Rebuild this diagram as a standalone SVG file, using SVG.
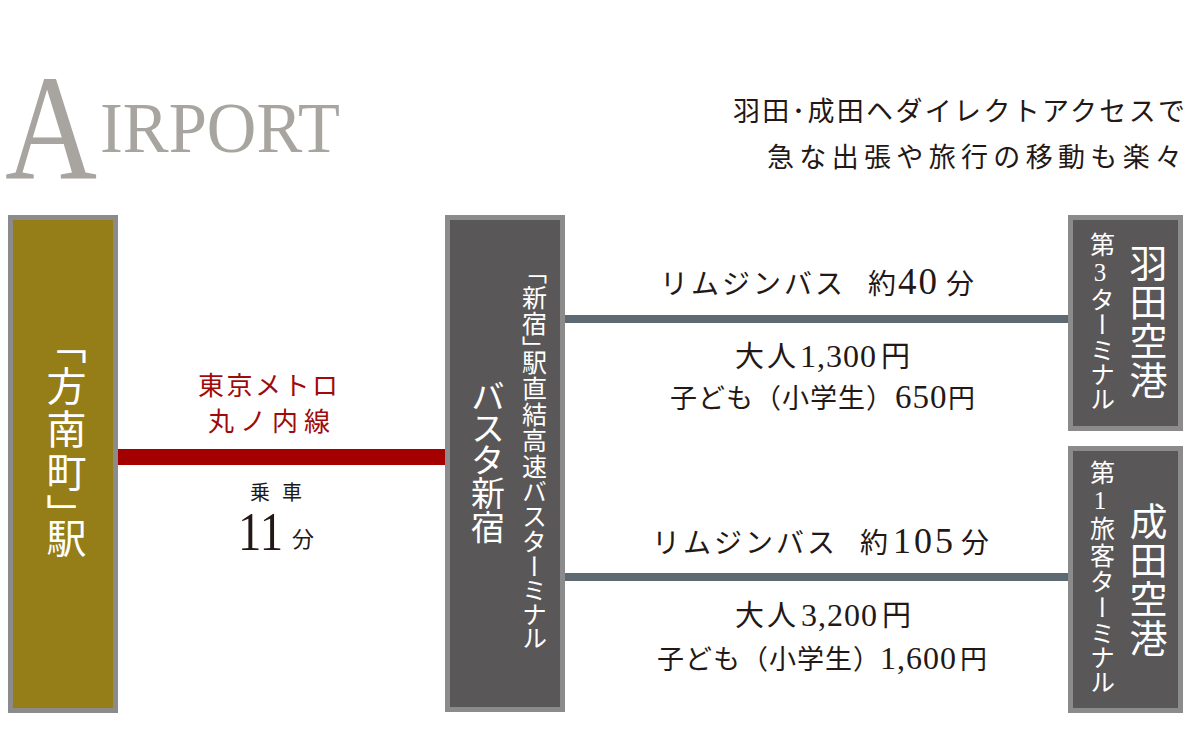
<svg xmlns="http://www.w3.org/2000/svg" width="1200" height="750" viewBox="0 0 1200 750">
  <style>
    .jp { font-family: "Liberation Serif", "Noto Sans CJK JP", serif; fill: #231815; }
    .red { fill: #a00a0a; }
    .white { fill: #ffffff; }
    .vert { writing-mode: vertical-rl; text-orientation: upright; text-anchor: middle; font-feature-settings: "vpal"; }
    .title { font-family: "Liberation Serif", serif; fill: #a8a4a0; }
    .box { stroke: #8b8b8b; stroke-width: 5; }
    .olive { fill: #957d17; }
    .dark { fill: #595757; }
  </style>
  <rect width="1200" height="750" fill="#ffffff"/>

  <g id="title">
    <text class="title" x="5" y="178" font-size="150" textLength="92" lengthAdjust="spacingAndGlyphs">A</text>
    <text class="title" x="100" y="152" font-size="71" textLength="240" lengthAdjust="spacingAndGlyphs">IRPORT</text>
  </g>

  <g id="tagline">
    <text class="jp" x="733" y="121" font-size="27" textLength="452" lengthAdjust="spacing">羽田･成田ヘダイレクトアクセスで</text>
    <text class="jp" x="767" y="167" font-size="27" textLength="415" lengthAdjust="spacing">急な出張や旅行の移動も楽々</text>
  </g>

  <g id="connectors">
    <rect x="118" y="449" width="328" height="16" fill="#a40000"/>
    <rect x="565" y="315" width="504" height="8" fill="#5d6a72"/>
    <rect x="565" y="573" width="504" height="8" fill="#5d6a72"/>
  </g>

  <g id="metro-labels">
    <text class="jp red" x="198" y="395" font-size="26" textLength="140" lengthAdjust="spacing">東京メトロ</text>
    <text class="jp red" x="208" y="431" font-size="26" textLength="122" lengthAdjust="spacing">丸ノ内線</text>
    <text class="jp" x="250" y="500" font-size="20" textLength="52" lengthAdjust="spacing">乗車</text>
    <text class="jp" x="238" y="550" font-size="54" textLength="45" lengthAdjust="spacingAndGlyphs">11</text>
    <text class="jp" x="292" y="547" font-size="22">分</text>
  </g>

  <g id="bus-labels">
    <text class="jp" y="294" font-size="28"><tspan x="660" letter-spacing="3">リムジンバス</tspan> <tspan x="868">約</tspan><tspan x="898" font-size="37" letter-spacing="2">40</tspan><tspan x="946">分</tspan></text>
    <text class="jp" y="367" font-size="29"><tspan x="735" letter-spacing="3">大人</tspan><tspan x="800" font-size="32" letter-spacing="1">1,300</tspan><tspan x="881">円</tspan></text>
    <text class="jp" y="408" font-size="27"><tspan x="670" letter-spacing="1">子ども（小学生）</tspan><tspan x="895" font-size="33" letter-spacing="1">650</tspan><tspan x="948">円</tspan></text>
    <text class="jp" y="553" font-size="28"><tspan x="652" letter-spacing="3">リムジンバス</tspan> <tspan x="860">約</tspan><tspan x="893" font-size="36" letter-spacing="3">105</tspan><tspan x="961">分</tspan></text>
    <text class="jp" y="626" font-size="29"><tspan x="735" letter-spacing="3">大人</tspan><tspan x="801" font-size="32" letter-spacing="1">3,200</tspan><tspan x="882">円</tspan></text>
    <text class="jp" y="669" font-size="27"><tspan x="657" letter-spacing="1">子ども（小学生）</tspan><tspan x="880" font-size="32" letter-spacing="1">1,600</tspan><tspan x="960">円</tspan></text>
  </g>

  <g id="node-honancho">
    <rect class="box olive" x="10.5" y="217.5" width="105" height="493"/>
    <text class="jp white vert" x="63" y="452" font-size="40" letter-spacing="3">「方南町」駅</text>
  </g>

  <g id="node-busta">
    <rect class="box dark" x="447.5" y="217.5" width="115" height="492"/>
    <text class="jp white vert" x="485" y="462" font-size="34">バスタ新宿</text>
    <text class="jp white vert" x="532" y="461" font-size="25" letter-spacing="1">「新宿」駅直結高速バスターミナル</text>
  </g>

  <g id="node-haneda">
    <rect class="box dark" x="1070.5" y="217.5" width="110" height="211"/>
    <text class="jp white vert" x="1145" y="322" font-size="38" letter-spacing="1">羽田空港</text>
    <text class="jp white vert" x="1100" y="322" font-size="25" letter-spacing="1.5">第3ターミナル</text>
  </g>

  <g id="node-narita">
    <rect class="box dark" x="1070.5" y="448.5" width="110" height="262"/>
    <text class="jp white vert" x="1145" y="580" font-size="38" letter-spacing="1">成田空港</text>
    <text class="jp white vert" x="1100" y="578" font-size="25" letter-spacing="1.8">第1旅客ターミナル</text>
  </g>
</svg>
